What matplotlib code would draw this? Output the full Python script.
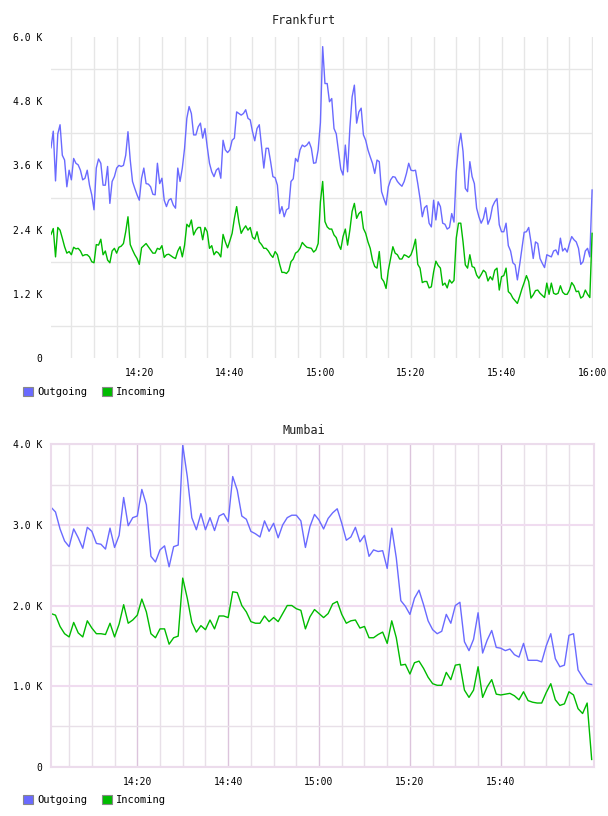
import numpy as np
import matplotlib
matplotlib.use("Agg")
import matplotlib.pyplot as plt
from matplotlib.patches import Patch

# traffic in K per sample, x is minutes after 14:00
fra_minutes = np.arange(0.5, 120.01, 0.5)   # 30 s samples
fra_outgoing = [
    3.93, 4.24, 3.31, 4.19, 4.36, 3.79, 3.70, 3.20, 3.51, 3.33,
    3.73, 3.64, 3.61, 3.51, 3.33, 3.36, 3.51, 3.23, 3.05, 2.77,
    3.55, 3.72, 3.64, 3.23, 3.23, 3.58, 2.89, 3.30, 3.39, 3.55,
    3.60, 3.58, 3.60, 3.79, 4.23, 3.70, 3.30, 3.17, 3.05, 2.95,
    3.36, 3.55, 3.26, 3.25, 3.20, 3.06, 3.05, 3.64, 3.26, 3.36,
    2.95, 2.83, 2.95, 2.98, 2.86, 2.80, 3.55, 3.30, 3.55, 3.92,
    4.48,
    4.70, 4.57, 4.17, 4.17, 4.32, 4.39, 4.11, 4.29, 3.95, 3.64,
    3.48, 3.39, 3.51, 3.55, 3.36, 4.07, 3.89, 3.84, 3.89, 4.07,
    4.11, 4.60, 4.57, 4.54, 4.57, 4.64, 4.48, 4.45, 4.23, 4.06,
    4.29, 4.36, 3.95, 3.55, 3.92, 3.92, 3.67, 3.39, 3.37, 3.23,
    2.70, 2.83, 2.64, 2.77, 2.80, 3.30, 3.35, 3.73, 3.67, 3.89,
    3.98, 3.95, 3.98, 4.04, 3.92, 3.64, 3.65, 3.89, 4.40, 5.82,
    5.13, 5.13, 4.79, 4.85, 4.29, 4.19, 3.86, 3.53, 3.42, 3.98,
    3.48, 4.29, 4.88, 5.10, 4.39, 4.60, 4.67, 4.17, 4.07, 3.89,
    3.76, 3.64, 3.45, 3.70, 3.67, 3.11, 2.98, 2.86, 3.20, 3.33,
    3.39, 3.38, 3.30, 3.25, 3.21, 3.30, 3.45, 3.64, 3.51, 3.50,
    3.51, 3.26, 2.98, 2.64, 2.81, 2.85, 2.52, 2.45, 2.95, 2.58,
    2.92, 2.83, 2.52, 2.50, 2.41, 2.44, 2.70, 2.54, 3.48, 3.95,
    4.20, 3.86, 3.17, 3.11, 3.67, 3.39, 3.26, 2.80, 2.64, 2.52,
    2.61, 2.81, 2.50, 2.61, 2.83, 2.92, 2.98, 2.49, 2.36, 2.36,
    2.52, 2.10, 2.00, 1.78, 1.74, 1.46, 1.74, 2.05, 2.35, 2.36,
    2.44, 2.17, 1.86, 2.17, 2.14, 1.86, 1.77, 1.69, 1.93, 1.91,
    1.89, 2.00, 2.02, 1.93, 2.24, 2.00, 2.05, 1.98, 2.14, 2.27,
    2.21, 2.17, 2.05, 1.75, 1.80, 2.00, 2.05, 1.89, 3.14,
]
fra_incoming = [
    2.31, 2.42, 1.89, 2.44, 2.39, 2.24, 2.08, 1.96, 1.99, 1.93,
    2.07, 2.04, 2.05, 2.00, 1.91, 1.93, 1.93, 1.89, 1.80, 1.78,
    2.12, 2.11, 2.22, 1.93, 2.00, 1.83, 1.78, 2.00, 2.05, 1.96,
    2.07, 2.09, 2.14, 2.36, 2.64, 2.12, 2.02, 1.93, 1.86, 1.75,
    2.06, 2.10, 2.14, 2.08, 2.02, 1.96, 1.96, 2.05, 2.03, 2.10,
    1.88, 1.93, 1.94, 1.91, 1.88, 1.86, 2.00, 2.08, 1.89, 2.11,
    2.50,
    2.45, 2.58, 2.30, 2.39, 2.44, 2.44, 2.21, 2.44, 2.36, 2.05,
    2.10, 1.93, 1.99, 1.96, 1.89, 2.31, 2.17, 2.06, 2.19, 2.33,
    2.61, 2.83, 2.54, 2.33, 2.41, 2.47, 2.39, 2.44, 2.26, 2.22,
    2.36, 2.17, 2.12, 2.05, 2.05, 2.00, 1.93, 1.88, 1.99, 1.93,
    1.75, 1.60, 1.60, 1.58, 1.63, 1.80, 1.85, 1.96, 1.99, 2.05,
    2.16, 2.11, 2.07, 2.06, 2.05, 1.98, 2.02, 2.14, 2.92, 3.30,
    2.55, 2.45, 2.41, 2.41, 2.30, 2.25, 2.12, 2.03, 2.27, 2.41,
    2.11, 2.39, 2.74, 2.89, 2.61, 2.70, 2.74, 2.42, 2.33, 2.17,
    2.05, 1.83, 1.71, 1.68, 1.99, 1.49, 1.43, 1.30, 1.64, 1.86,
    2.08, 1.96, 1.93, 1.85, 1.85, 1.93, 1.91, 1.88, 1.93, 2.05,
    2.22, 1.75, 1.68, 1.41, 1.43, 1.43, 1.31, 1.33, 1.61, 1.81,
    1.73, 1.68, 1.36, 1.40, 1.31, 1.46, 1.40, 1.45, 2.24, 2.52,
    2.52, 2.17, 1.74, 1.68, 1.93, 1.71, 1.69, 1.55, 1.49, 1.56,
    1.64, 1.60, 1.44, 1.52, 1.46, 1.64, 1.68, 1.27, 1.52, 1.54,
    1.68, 1.24, 1.20, 1.12, 1.07, 1.02, 1.15, 1.29, 1.41, 1.54,
    1.43, 1.12, 1.18, 1.26, 1.27, 1.21, 1.17, 1.13, 1.40, 1.19,
    1.40, 1.21, 1.19, 1.21, 1.35, 1.23, 1.19, 1.19, 1.27, 1.41,
    1.35, 1.24, 1.25, 1.12, 1.15, 1.27, 1.19, 1.13, 2.33,
]

mum_minutes = np.arange(1, 121)   # 1 min samples
mum_outgoing = [
    3.22, 3.16, 2.95, 2.80, 2.73, 2.95, 2.84, 2.71, 2.97, 2.92,
    2.77, 2.76, 2.70, 2.96, 2.72, 2.87, 3.34, 2.99, 3.09, 3.11,
    3.44, 3.25, 2.61, 2.54, 2.69, 2.74, 2.48, 2.73, 2.75, 3.99,
    3.60, 3.09, 2.94, 3.14, 2.94, 3.09, 2.93, 3.11, 3.14, 3.04,
    3.60, 3.43, 3.11, 3.07, 2.92, 2.89, 2.85, 3.05, 2.92, 3.02,
    2.84, 3.00, 3.09, 3.12, 3.12, 3.05, 2.72, 2.98, 3.13, 3.06,
    2.95, 3.08, 3.15, 3.20, 3.02, 2.81, 2.85, 2.97, 2.79, 2.87,
    2.61, 2.69, 2.67, 2.68, 2.46, 2.96, 2.59, 2.06, 1.99, 1.89,
    2.09, 2.19, 2.01, 1.81, 1.70, 1.65, 1.68, 1.89, 1.78, 2.00,
    2.04, 1.55, 1.44, 1.58, 1.91, 1.41, 1.57, 1.69, 1.48, 1.47,
    1.44, 1.46, 1.39, 1.36, 1.53, 1.32, 1.32, 1.32, 1.30, 1.50,
    1.65, 1.34, 1.24, 1.26, 1.63, 1.65, 1.20, 1.11, 1.03, 1.02,
]
mum_incoming = [
    1.90, 1.88, 1.74, 1.65, 1.61, 1.79, 1.66, 1.61, 1.81, 1.72,
    1.65, 1.65, 1.64, 1.78, 1.61, 1.77, 2.01, 1.78, 1.82, 1.88,
    2.08, 1.92, 1.65, 1.60, 1.71, 1.71, 1.52, 1.60, 1.62, 2.34,
    2.09, 1.79, 1.67, 1.75, 1.70, 1.82, 1.71, 1.87, 1.87, 1.85,
    2.17, 2.16, 2.00, 1.92, 1.80, 1.78, 1.78, 1.87, 1.80, 1.85,
    1.80, 1.90, 2.00, 2.00, 1.96, 1.94, 1.71, 1.86, 1.95, 1.90,
    1.85, 1.90, 2.02, 2.05, 1.89, 1.78, 1.81, 1.82, 1.72, 1.74,
    1.60, 1.60, 1.64, 1.67, 1.53, 1.81, 1.60, 1.26, 1.27, 1.15,
    1.29, 1.31, 1.22, 1.11, 1.03, 1.01, 1.01, 1.17, 1.08, 1.26,
    1.27, 0.95, 0.86, 0.95, 1.24, 0.86, 0.99, 1.08, 0.90, 0.89,
    0.90, 0.91, 0.88, 0.83, 0.93, 0.82, 0.80, 0.79, 0.79, 0.92,
    1.03, 0.83, 0.76, 0.78, 0.93, 0.89, 0.72, 0.66, 0.79, 0.09,
]

time_ticks = [20, 40, 60, 80, 100, 120]
time_labels = ["14:20", "14:40", "15:00", "15:20", "15:40", "16:00"]
fra_yticks = [0, 1.2, 2.4, 3.6, 4.8, 6.0]
fra_ylabels = ["0", "1.2 K", "2.4 K", "3.6 K", "4.8 K", "6.0 K"]
mum_yticks = [0, 1, 2, 3, 4]
mum_ylabels = ["0", "1.0 K", "2.0 K", "3.0 K", "4.0 K"]
series_names = ["Outgoing", "Incoming"]

OUT_COLOR = "#6a6aff"
IN_COLOR = "#00bb00"
MONO = "DejaVu Sans Mono"

W, H = 608, 816
fig = plt.figure(figsize=(W / 100, H / 100), dpi=100)
fig.patch.set_facecolor("white")


def add_legend(y_px):
    handles = [Patch(facecolor=OUT_COLOR, edgecolor="#888888", lw=0.8),
               Patch(facecolor=IN_COLOR, edgecolor="#888888", lw=0.8)]
    fig.legend(handles, series_names, loc="center left",
               bbox_to_anchor=(23 / W, 1 - y_px / H), ncol=2, frameon=False,
               prop={"family": MONO, "size": 7.5}, handlelength=1.0,
               handleheight=1.0, handletextpad=0.35, columnspacing=1.4,
               borderpad=0, borderaxespad=0)


def base_axes(ax):
    ax.set_axisbelow(True)
    ax.tick_params(which="both", length=0, labelsize=7, pad=6)
    for lab in ax.get_xticklabels() + ax.get_yticklabels():
        lab.set_family(MONO)
    ax.tick_params(axis="x", pad=7.5)


# ---- Frankfurt ----
ax1 = fig.add_axes([51 / W, 1 - 358 / H, 542 / W, 321 / H])
ax1.plot(fra_minutes, fra_outgoing, color=OUT_COLOR, lw=1.0)
ax1.plot(fra_minutes, fra_incoming, color=IN_COLOR, lw=1.0)
ax1.set_xlim(0.5, 120.2)
ax1.set_ylim(0, 6.0)
ax1.set_xticks(time_ticks)
ax1.set_xticklabels(time_labels)
ax1.set_xticks(np.arange(5, 121, 5), minor=True)
ax1.set_yticks(fra_yticks)
ax1.set_yticklabels(fra_ylabels)
ax1.set_yticks([0.6, 1.8, 3.0, 4.2, 5.4], minor=True)
ax1.grid(which="both", axis="x", color="#e6e6e6", lw=1.0)
ax1.grid(which="minor", axis="y", color="#e6e6e6", lw=1.0)
for s in ax1.spines.values():
    s.set_visible(False)
base_axes(ax1)
fig.text(304 / W, 1 - 20 / H, "Frankfurt", ha="center", va="center",
         family=MONO, size=8.5, color="#222222")
add_legend(392)

# ---- Mumbai ----
ax2 = fig.add_axes([50.5 / W, 1 - 766.7 / H, 543 / W, 322.4 / H])
ax2.plot(mum_minutes, mum_outgoing, color=OUT_COLOR, lw=1.0)
ax2.plot(mum_minutes, mum_incoming, color=IN_COLOR, lw=1.0)
ax2.set_xlim(0.9, 120.4)
ax2.set_ylim(0, 4.0)
ax2.set_xticks(time_ticks[:-1])
ax2.set_xticklabels(time_labels[:-1])
ax2.set_xticks(np.arange(5, 120, 5), minor=True)
ax2.set_yticks(mum_yticks)
ax2.set_yticklabels(mum_ylabels)
ax2.set_yticks([0.5, 1.5, 2.5, 3.5], minor=True)
ax2.grid(which="major", axis="x", color="#dcc4dc", lw=1.0)
ax2.grid(which="minor", axis="x", color="#e8e0e8", lw=1.0)
ax2.grid(which="major", axis="y", color="#f0dcf0", lw=1.5)
ax2.grid(which="minor", axis="y", color="#e8e0e8", lw=1.0)
for s in ax2.spines.values():
    s.set_color("#ecdcec")
    s.set_linewidth(1.5)
base_axes(ax2)
fig.text(304 / W, 1 - 430 / H, "Mumbai", ha="center", va="center",
         family=MONO, size=8.5, color="#222222")
add_legend(800)

fig.savefig("out.png", dpi=100)
